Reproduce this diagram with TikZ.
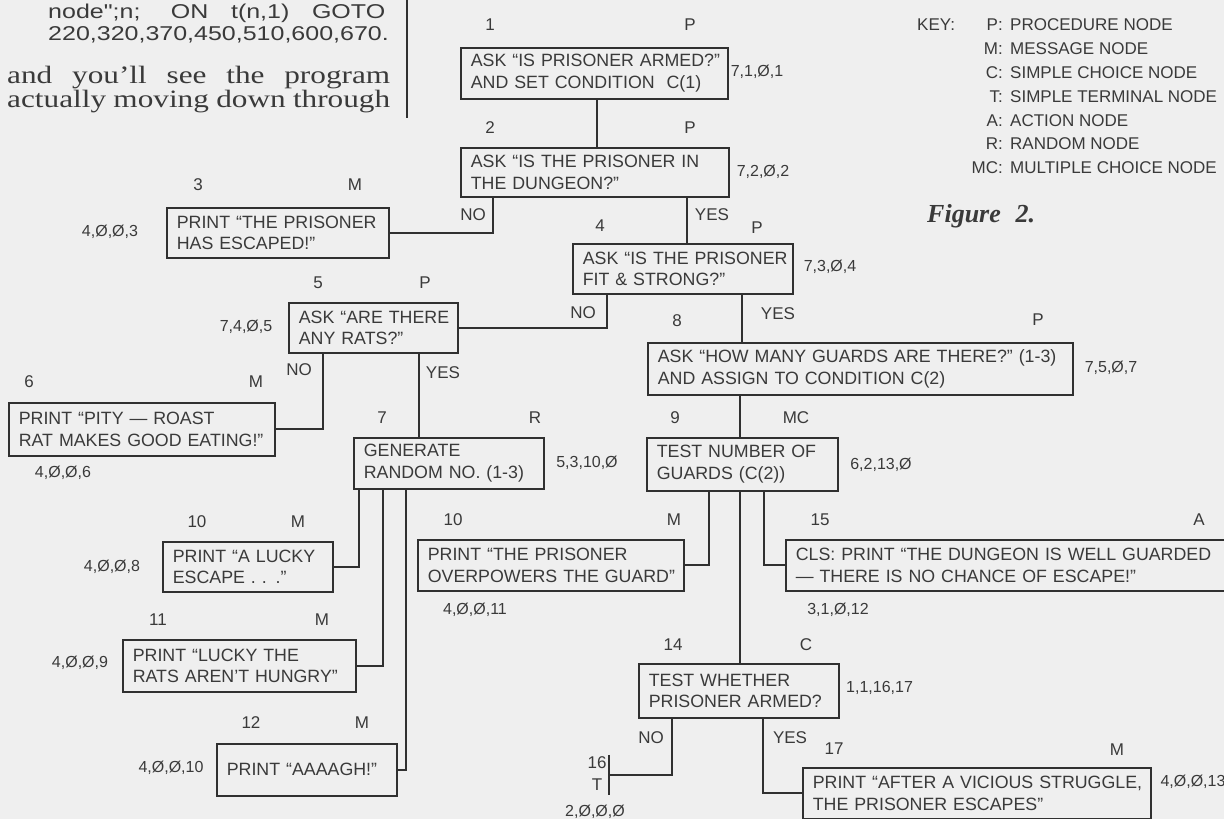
\documentclass[tikz,border=0pt]{standalone}
\usepackage{fontspec}
\setmainfont{Liberation Sans}
\newfontfamily\serifbody{Liberation Serif}[FakeStretch=1.25]
\newfontfamily\widesans{Liberation Sans}[FakeStretch=1.25]
\newfontfamily\figfont{Liberation Serif}
\usetikzlibrary{shadows}
\definecolor{bg}{RGB}{239,239,239}
\definecolor{ink}{RGB}{48,48,48}
\definecolor{txt}{RGB}{58,58,58}
\tikzset{
  boxn/.style={draw=ink, fill=bg, line width=1.6pt, anchor=north west,
    inner xsep=10pt, inner ysep=1pt, align=left, text=txt,
    font=\fontsize{17.8}{21.5}\selectfont,
    drop shadow={shadow xshift=1.4pt, shadow yshift=-1.4pt, fill=ink, opacity=1}},
  lab/.style={text=txt, font=\fontsize{17}{20}\selectfont, inner sep=0pt},
  code/.style={text=txt, font=\fontsize{16}{19}\selectfont, inner sep=0pt},
  keyl/.style={text=txt, font=\fontsize{17}{20}\selectfont, inner sep=0pt},
  conn/.style={draw=ink, line width=2pt},
}
\begin{document}
\begin{tikzpicture}[x=1pt,y=-1pt]
\fill[bg] (0,0) rectangle (1224,819);
\useasboundingbox (0,0) rectangle (1224,819);

% ---- column text top left
\node[anchor=base west, inner sep=0pt, text=txt, font=\widesans\fontsize{20}{24}\selectfont] (tx1) at (48,18) {\makebox[337pt][s]{node";n; ON t(n,1) GOTO}};
\node[anchor=base west, inner sep=0pt, text=txt, font=\widesans\fontsize{20}{24}\selectfont] (tx2) at (48,40) {220,320,370,450,510,600,670.};
\node[anchor=base west, inner sep=0pt, text=txt, font=\serifbody\fontsize{25}{28}\selectfont] (tx3) at (7,83) {\makebox[383pt][s]{and you’ll see the program}};
\node[anchor=base west, inner sep=0pt, text=txt, font=\serifbody\fontsize{25}{28}\selectfont] (tx4) at (7,107) {\makebox[383pt][s]{actually moving down through}};
\draw[ink, line width=1.4pt] (407,0) coordinate (r1) -- (407,118) coordinate (r2);

% ---- key
\node[keyl, anchor=west] (k0) at (917,25) {KEY:};
\node[keyl, anchor=east] (k1a) at (1003,25) {P:};
\node[keyl, anchor=west] (k1b) at (1010,25) {PROCEDURE NODE};
\node[keyl, anchor=east] (k2a) at (1003,48.8) {M:};
\node[keyl, anchor=west] (k2b) at (1010,48.8) {MESSAGE NODE};
\node[keyl, anchor=east] (k3a) at (1003,72.6) {C:};
\node[keyl, anchor=west] (k3b) at (1010,72.6) {SIMPLE CHOICE NODE};
\node[keyl, anchor=east] (k4a) at (1003,96.4) {T:};
\node[keyl, anchor=west] (k4b) at (1010,96.4) {SIMPLE TERMINAL NODE};
\node[keyl, anchor=east] (k5a) at (1003,120.2) {A:};
\node[keyl, anchor=west] (k5b) at (1010,120.2) {ACTION NODE};
\node[keyl, anchor=east] (k6a) at (1003,144) {R:};
\node[keyl, anchor=west] (k6b) at (1010,144) {RANDOM NODE};
\node[keyl, anchor=east] (k7a) at (1003,167.8) {MC:};
\node[keyl, anchor=west] (k7b) at (1010,167.8) {MULTIPLE CHOICE NODE};
\node[anchor=base west, inner sep=0pt, text=txt, font=\figfont\bfseries\itshape\fontsize{26}{30}\selectfont] (fig) at (927,222) {\makebox[108pt][s]{Figure 2.}};

% ---- boxes
\node[boxn, text width=247pt, minimum height=51pt] (n1) at (460,47) {\mbox{ASK “IS PRISONER ARMED?”}\\\mbox{AND SET CONDITION\ \ C(1)}};
\node[boxn, text width=248pt, minimum height=49pt] (n2) at (460,147) {\mbox{ASK “IS THE PRISONER IN}\\\mbox{THE DUNGEON?”}};
\node[boxn, text width=202pt, minimum height=50pt] (n3) at (166,207) {\mbox{PRINT “THE PRISONER}\\\mbox{HAS ESCAPED!”}};
\node[boxn, text width=200pt, minimum height=50pt] (n4) at (572,243) {\mbox{ASK “IS THE PRISONER}\\\mbox{FIT \& STRONG?”}};
\node[boxn, text width=149pt, minimum height=50pt] (n5) at (288,302) {\mbox{ASK “ARE THERE}\\\mbox{ANY RATS?”}};
\node[boxn, text width=246pt, minimum height=53pt] (n6) at (8,402) {\mbox{PRINT “PITY — ROAST}\\\mbox{RAT MAKES GOOD EATING!”}};
\node[boxn, text width=170pt, minimum height=51pt] (n7) at (353,437) {\mbox{GENERATE}\\\mbox{RANDOM NO. (1-3)}};
\node[boxn, text width=405pt, minimum height=52pt] (n8) at (647,342) {\mbox{ASK “HOW MANY GUARDS ARE THERE?” (1-3)}\\\mbox{AND ASSIGN TO CONDITION C(2)}};
\node[boxn, text width=171pt, minimum height=53pt] (n9) at (646,437) {\mbox{TEST NUMBER OF}\\\mbox{GUARDS (C(2))}};
\node[boxn, text width=150pt, minimum height=50pt] (n10a) at (162,541) {\mbox{PRINT “A LUCKY}\\\mbox{ESCAPE . . .”}};
\node[boxn, text width=213pt, minimum height=52pt] (n11) at (122,639) {\mbox{PRINT “LUCKY THE}\\\mbox{RATS AREN’T HUNGRY”}};
\node[boxn, text width=160pt, minimum height=52pt] (n12) at (216,743) {\mbox{PRINT “AAAAGH!”}};
\node[boxn, text width=246pt, minimum height=51pt] (n10b) at (417,539) {\mbox{PRINT “THE PRISONER}\\\mbox{OVERPOWERS THE GUARD”}};
\node[boxn, text width=421pt, minimum height=51pt] (n15) at (785,539) {\mbox{CLS: PRINT “THE DUNGEON IS WELL GUARDED}\\\mbox{— THERE IS NO CHANCE OF ESCAPE!”}};
\node[boxn, text width=180pt, minimum height=54pt] (n14) at (638,663) {\mbox{TEST WHETHER}\\\mbox{PRISONER ARMED?}};
\node[boxn, text width=328pt, minimum height=51pt] (n17) at (802,767) {\mbox{PRINT “AFTER A VICIOUS STRUGGLE,}\\\mbox{THE PRISONER ESCAPES”}};
\node[inner sep=0pt, minimum width=0pt, minimum height=40pt] (t16) at (609,775) {};
\draw[ink, line width=2.2pt] (t16.north) -- (t16.south);

% ---- connectors
\path (n1.south west) ++(137,0) coordinate (c1);
\path (n2.south west) ++(33,0) coordinate (c2no);
\path (n2.south west) ++(227,0) coordinate (c2yes);
\path (n4.south west) ++(35,0) coordinate (c4no);
\path (n4.south west) ++(170,0) coordinate (c4yes);
\path (n5.south west) ++(35,0) coordinate (c5no);
\path (n5.south west) ++(131,0) coordinate (c5yes);
\path (n7.south west) ++(6,0) coordinate (c7a);
\path (n7.south west) ++(30,0) coordinate (c7b);
\path (n7.south west) ++(53,0) coordinate (c7c);
\path (n8.south west) ++(93,0) coordinate (c8);
\path (n9.south west) ++(63,0) coordinate (c9a);
\path (n9.south west) ++(94,0) coordinate (c9b);
\path (n9.south west) ++(118,0) coordinate (c9c);
\path (n14.south west) ++(34,0) coordinate (c14no);
\path (n14.south west) ++(125,0) coordinate (c14yes);

\draw[conn] (c1) -- (c1 |- n2.north);
\draw[conn] (c2no) |- (n3.east);
\draw[conn] (c2yes) -- (c2yes |- n4.north);
\draw[conn] (c4no) |- (n5.east);
\draw[conn] (c4yes) -- (c4yes |- n8.north);
\draw[conn] (c5no) |- (n6.east);
\draw[conn] (c5yes) -- (c5yes |- n7.north);
\draw[conn] (c7a) |- (n10a.east);
\draw[conn] (c7b) |- (n11.east);
\draw[conn] (c7c) |- (n12.east);
\draw[conn] (c8) -- (c8 |- n9.north);
\draw[conn] (c9a) |- (n10b.east);
\draw[conn] (c9b) -- (c9b |- n14.north);
\draw[conn] (c9c) |- (n15.west);
\draw[conn] (c14no) |- (t16.center);
\draw[conn] (c14yes) |- (n17.west);

% ---- labels
\node[lab] (i1) at (490,25) {1};
\node[lab] (y1) at (690,25) {P};
\node[code] (d1) at (757,72) {7,1,Ø,1};
\node[lab] (i2) at (490,128) {2};
\node[lab] (y2) at (690,128) {P};
\node[code] (d2) at (763,172) {7,2,Ø,2};
\node[lab] (no2) at (473,215) {NO};
\node[lab] (yes2) at (712,215) {YES};
\node[lab] (i4) at (600,226) {4};
\node[lab] (y4) at (757,228) {P};
\node[code] (d4) at (830,267) {7,3,Ø,4};
\node[lab] (i3) at (198,185) {3};
\node[lab] (y3) at (355,185) {M};
\node[code] (d3) at (110,232) {4,Ø,Ø,3};
\node[lab] (i5) at (318,283) {5};
\node[lab] (y5) at (425,283) {P};
\node[code] (d5) at (246,327) {7,4,Ø,5};
\node[lab] (no4) at (583,313) {NO};
\node[lab] (yes4) at (778,314) {YES};
\node[lab] (i8) at (677,321) {8};
\node[lab] (y8) at (1038,320) {P};
\node[code] (d8) at (1111,368) {7,5,Ø,7};
\node[lab] (no5) at (299,370) {NO};
\node[lab] (yes5) at (443,373) {YES};
\node[lab] (i6) at (29,382) {6};
\node[lab] (y6) at (256,382) {M};
\node[code] (d6) at (63,473) {4,Ø,Ø,6};
\node[lab] (i7) at (382,418) {7};
\node[lab] (y7) at (535,418) {R};
\node[code] (d7) at (587,463) {5,3,10,Ø};
\node[lab] (i9) at (675,418) {9};
\node[lab] (y9) at (796,418) {MC};
\node[code] (d9) at (881,465) {6,2,13,Ø};
\node[lab] (i10a) at (197,522) {10};
\node[lab] (y10a) at (298,522) {M};
\node[code] (d10a) at (112,567) {4,Ø,Ø,8};
\node[lab] (i10b) at (453,520) {10};
\node[lab] (y10b) at (674,520) {M};
\node[code] (d10b) at (475,610) {4,Ø,Ø,11};
\node[lab] (i15) at (820,520) {15};
\node[lab] (y15) at (1199,520) {A};
\node[code] (d15) at (838,610) {3,1,Ø,12};
\node[lab] (i11) at (158,620) {11};
\node[lab] (y11) at (322,620) {M};
\node[code] (d11) at (80,663) {4,Ø,Ø,9};
\node[lab] (i14) at (673,645) {14};
\node[lab] (y14) at (806,645) {C};
\node[code, anchor=west] (d14) at (846,688) {1,1,16,17};
\node[lab] (i12) at (251,723) {12};
\node[lab] (y12) at (362,723) {M};
\node[code] (d12) at (171,768) {4,Ø,Ø,10};
\node[lab] (no14) at (651,738) {NO};
\node[lab] (yes14) at (790,738) {YES};
\node[lab] (i17) at (834,749) {17};
\node[lab] (y17) at (1117,750) {M};
\node[code] (d17) at (1193,782) {4,Ø,Ø,13};
\node[lab] (i16) at (597,763) {16};
\node[lab] (y16) at (597,785) {T};
\node[code] (d16) at (595,812) {2,Ø,Ø,Ø};
\end{tikzpicture}
\end{document}
